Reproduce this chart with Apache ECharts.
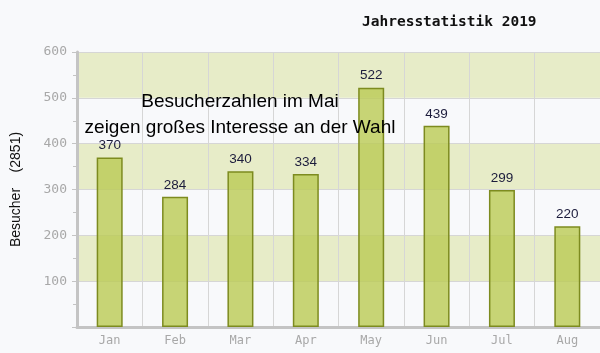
<!DOCTYPE html>
<html>
<head>
<meta charset="utf-8">
<script src="https://cdn.jsdelivr.net/npm/echarts@6/dist/echarts.min.js"></script>
<style>
  html, body { margin: 0; padding: 0; background: #f8f9fb; }
  #chart { width: 600px; height: 353px; }
</style>
</head>
<body>
<div id="chart"></div>
<script>
// Besucherzahlen pro Monat
const months = ['Jan', 'Feb', 'Mar', 'Apr', 'May', 'Jun', 'Jul', 'Aug'];
const visitors = [370, 284, 340, 334, 522, 439, 299, 220];
const yTicks = { min: 0, max: 600, step: 100 };

const chart = echarts.init(document.getElementById('chart'));

const option = {
    backgroundColor: '#f8f9fb',
    animation: false,
    title: {
        text: 'Jahresstatistik 2019',
        left: 357,
        top: 10,
        textStyle: {
            fontFamily: 'DejaVu Sans Mono',
            fontWeight: 'bold',
            fontSize: 14.5,
            color: '#111'
        }
    },
    grid: {
        left: 77,
        right: 0,
        top: 52,
        bottom: 26
    },
    xAxis: {
        type: 'category',
        data: months,
        axisLine: { lineStyle: { color: '#c4c4c4', width: 3 } },
        axisTick: { show: false },
        axisLabel: {
            color: '#a8a8a8',
            fontFamily: 'DejaVu Sans Mono',
            fontSize: 12,
            margin: 8
        },
        splitLine: { show: true, lineStyle: { color: '#d6d6d6', width: 1 } }
    },
    yAxis: {
        type: 'value',
        min: yTicks.min,
        max: yTicks.max,
        interval: yTicks.step,
        name: 'Besucher    (2851)',
        nameLocation: 'middle',
        nameGap: 54,
        nameTextStyle: {
            color: '#111',
            fontFamily: 'Liberation Sans',
            fontSize: 14
        },
        axisLine: { show: true, lineStyle: { color: '#c4c4c4', width: 3 } },
        axisTick: { show: true, length: 5, lineStyle: { color: '#c4c4c4' } },
        minorTick: { show: true, splitNumber: 2, length: 4, lineStyle: { color: '#c4c4c4' } },
        axisLabel: {
            color: '#a8a8a8',
            fontFamily: 'DejaVu Sans Mono',
            fontSize: 13,
            margin: 10,
            formatter: function (v) { return v === 0 ? '' : v; }
        },
        splitLine: { show: true, lineStyle: { color: '#d6d6d6', width: 1 } },
        splitArea: { show: true, areaStyle: { color: ['#f8f9fb', '#e7ecc8'] } }
    },
    series: [{
        type: 'bar',
        data: visitors,
        barWidth: 26,
        itemStyle: {
            color: 'rgba(186,203,84,0.8)',
            borderColor: '#7d8b1f',
            borderWidth: 1.5
        },
        label: {
            show: true,
            position: 'top',
            distance: 5,
            color: '#1c1c3c',
            fontFamily: 'Liberation Sans',
            fontSize: 13.5
        }
    }],
    graphic: [
        {
            type: 'text',
            z: 100,
            style: {
                text: 'Besucherzahlen im Mai',
                x: 240, y: 102,
                align: 'center',
                verticalAlign: 'middle',
                fontFamily: 'Liberation Sans',
                fontSize: 19,
                fill: '#000'
            }
        },
        {
            type: 'text',
            z: 100,
            style: {
                text: 'zeigen großes Interesse an der Wahl',
                x: 240, y: 128,
                align: 'center',
                verticalAlign: 'middle',
                fontFamily: 'Liberation Sans',
                fontSize: 19,
                fill: '#000'
            }
        }
    ]
};

chart.setOption(option);
</script>
</body>
</html>
